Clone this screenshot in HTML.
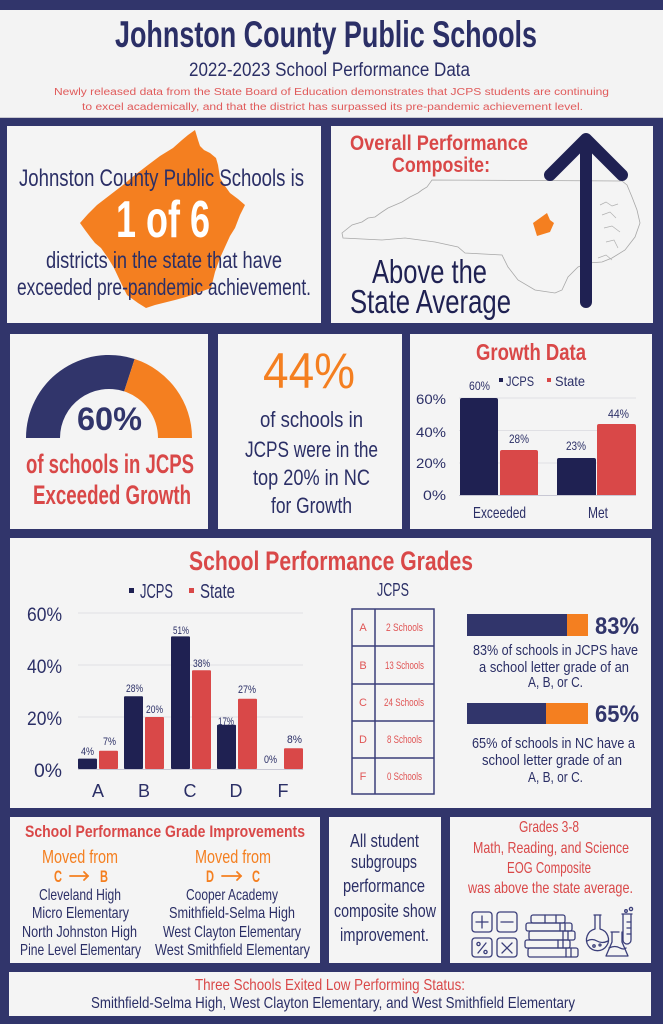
<!DOCTYPE html>
<html><head><meta charset="utf-8"><style>
html,body{margin:0;padding:0;background:#31356b;}
svg{display:block;}
text{font-family:"Liberation Sans Narrow","Liberation Sans",sans-serif;}
.n{fill:#2b2f66;}
.r{fill:#d94848;}
.o{fill:#f47f20;}
.b{font-weight:bold;}
</style></head><body>
<svg width="663" height="1024" viewBox="0 0 663 1024" xmlns="http://www.w3.org/2000/svg">
<rect x="0" y="0" width="663" height="1024" fill="#31356b"/>
<!-- header -->
<rect x="0" y="10" width="663" height="108" fill="#f3f3f3"/>
<rect x="0" y="117" width="663" height="1" fill="#c8c8d0"/>
<text x="115" y="47" font-size="37" class="n b" textLength="422" lengthAdjust="spacingAndGlyphs">Johnston County Public Schools</text>
<text x="189" y="76" font-size="19" class="n" textLength="281" lengthAdjust="spacingAndGlyphs">2022-2023 School Performance Data</text>
<text x="54" y="95" font-size="10" fill="#e05a5a" style="font-family:'Liberation Sans',sans-serif" textLength="555" lengthAdjust="spacingAndGlyphs">Newly released data from the State Board of Education demonstrates that JCPS students are continuing</text>
<text x="82" y="110" font-size="10" fill="#e05a5a" style="font-family:'Liberation Sans',sans-serif" textLength="501" lengthAdjust="spacingAndGlyphs">to excel academically, and that the district has surpassed its pre-pandemic achievement level.</text>

<!-- panels -->
<g fill="#f4f4f4">
<rect x="7" y="126" width="314" height="197"/>
<rect x="331" y="126" width="322" height="197"/>
<rect x="10" y="334" width="198" height="195"/>
<rect x="218" y="334" width="184" height="195"/>
<rect x="410" y="334" width="242" height="195"/>
<rect x="10" y="538" width="641" height="270"/>
<rect x="10" y="817" width="310" height="146"/>
<rect x="329" y="817" width="112" height="146"/>
<rect x="450" y="817" width="201" height="146"/>
<rect x="9" y="972" width="642" height="44"/>
</g>

<!-- Row 1 left -->
<polygon fill="#f47f20" points="195,130 198,140 200,146 204,150 210,153 216,158 218,165 220,178 225,186 230,193 238,199 245,205 240,215 235,228 230,236 225,247 220,258 215,272 211,288 200,292 186,297 175,300 167,302 155,305 146,308 138,303 127,295 122,285 114,268 108,258 101,248 95,243 91,238 85,230 80,223 88,214 97,205 110,195 123,185 135,175 148,165 160,156 173,148 182,140 188,135"/>
<text x="19" y="186" font-size="24" class="n" textLength="285" lengthAdjust="spacingAndGlyphs">Johnston County Public Schools is</text>
<text x="116" y="237" font-size="52" fill="#ffffff" class="b" textLength="94" lengthAdjust="spacingAndGlyphs">1 of 6</text>
<text x="46" y="268" font-size="23" class="n" textLength="236" lengthAdjust="spacingAndGlyphs">districts in the state that have</text>
<text x="17" y="295" font-size="23" class="n" textLength="294" lengthAdjust="spacingAndGlyphs">exceeded pre-pandemic achievement.</text>

<!-- Row 1 right -->
<text x="350" y="150" font-size="21" class="r b" textLength="178" lengthAdjust="spacingAndGlyphs">Overall Performance</text>
<text x="392" y="172" font-size="21" class="r b" textLength="98" lengthAdjust="spacingAndGlyphs">Composite:</text>
<path d="M432,180 L622,181 L627,185 L632,197 L637,210 L640,223 L635,237 L625,250 L612,258 L602,262 L588,263 L578,267 L568,277 L562,290 L555,293 L535,290 L518,280 L508,267 L502,255 L465,253 L458,247 L435,242 L405,238 L382,240 L343,238 L342,233 L352,225 L362,222 L368,218 L375,217 L382,212 L388,208 L395,205 L402,202 L410,197 L418,193 L422,190 L427,187 Z" fill="none" stroke="#a8a8a8" stroke-width="0.8"/>
<path d="M600,205 L606,202 L612,206 L618,204 M602,215 L610,212 L616,218 M604,228 L612,226 L620,232 M606,242 L614,240 L618,248 M598,258 L606,255 L612,260" fill="none" stroke="#b0b0b0" stroke-width="0.7"/>
<polygon fill="#f47f20" points="533,223 547,213 550,220 554,223 550,232 537,236"/>
<g stroke="#1f2152" stroke-width="12" stroke-linecap="round" stroke-linejoin="round" fill="none">
<line x1="586" y1="140" x2="586" y2="302"/>
<polyline points="550,175 586,139 622,175"/>
</g>
<text x="372" y="283" font-size="33" fill="#1f2152" textLength="115" lengthAdjust="spacingAndGlyphs">Above the</text>
<text x="350" y="313" font-size="33" fill="#1f2152" textLength="161" lengthAdjust="spacingAndGlyphs">State Average</text>

<!-- Row 2 gauge -->
<path d="M26,438 A83,83 0 0 1 134.65,359.06 L124.14,391.4 A49,49 0 0 0 60,438 Z" fill="#31356b"/>
<path d="M134.65,359.06 A83,83 0 0 1 192,438 L158,438 A49,49 0 0 0 124.14,391.4 Z" fill="#f47f20"/>
<text x="77" y="430" font-size="32" class="b" fill="#31356b" textLength="65" lengthAdjust="spacingAndGlyphs">60%</text>
<text x="26" y="473" font-size="27" class="r b" textLength="168" lengthAdjust="spacingAndGlyphs">of schools in JCPS</text>
<text x="33" y="504" font-size="27" class="r b" textLength="158" lengthAdjust="spacingAndGlyphs">Exceeded Growth</text>

<!-- Row 2 middle -->
<text x="263" y="388" font-size="50" class="o" textLength="92" lengthAdjust="spacingAndGlyphs">44%</text>
<text x="260" y="427" font-size="22" class="n" textLength="103" lengthAdjust="spacingAndGlyphs">of schools in</text>
<text x="245" y="457" font-size="22" class="n" textLength="133" lengthAdjust="spacingAndGlyphs">JCPS were in the</text>
<text x="253" y="485" font-size="22" class="n" textLength="117" lengthAdjust="spacingAndGlyphs">top 20% in NC</text>
<text x="271" y="513" font-size="22" class="n" textLength="81" lengthAdjust="spacingAndGlyphs">for Growth</text>

<!-- Row 2 growth chart -->
<text x="476" y="360" font-size="23" class="r b" textLength="110" lengthAdjust="spacingAndGlyphs">Growth Data</text>
<rect x="499" y="378" width="4" height="4" fill="#1f2152"/>
<text x="506" y="386" font-size="14" class="n" textLength="28" lengthAdjust="spacingAndGlyphs">JCPS</text>
<rect x="547" y="378" width="4" height="4" fill="#d94848"/>
<text x="555" y="386" font-size="14" class="n" textLength="30" lengthAdjust="spacingAndGlyphs">State</text>
<g stroke="#e0e0e4" stroke-width="1">
<line x1="459" y1="398" x2="636" y2="398"/>
<line x1="459" y1="430.5" x2="636" y2="430.5"/>
<line x1="459" y1="463" x2="636" y2="463"/>
</g>
<line x1="459" y1="495.5" x2="636" y2="495.5" stroke="#c8c8d4" stroke-width="1"/>
<g font-size="14" class="n">
<text x="416" y="404" textLength="30" lengthAdjust="spacingAndGlyphs" class="n">60%</text>
<text x="416" y="437" textLength="30" lengthAdjust="spacingAndGlyphs" class="n">40%</text>
<text x="416" y="468" textLength="30" lengthAdjust="spacingAndGlyphs" class="n">20%</text>
<text x="423" y="500" textLength="23" lengthAdjust="spacingAndGlyphs" class="n">0%</text>
</g>
<path d="M460,495 L460,400 Q460,398 462,398 L496,398 Q498,398 498,400 L498,495 Z" fill="#1f2152"/>
<path d="M500,495 L500,452 Q500,450 502,450 L536,450 Q538,450 538,452 L538,495 Z" fill="#d94848"/>
<path d="M557,495 L557,460 Q557,458 559,458 L594,458 Q596,458 596,460 L596,495 Z" fill="#1f2152"/>
<path d="M597,495 L597,426 Q597,424 599,424 L634,424 Q636,424 636,426 L636,495 Z" fill="#d94848"/>
<text x="469" y="390" font-size="12" class="n" textLength="21" lengthAdjust="spacingAndGlyphs">60%</text>
<text x="509" y="443" font-size="12" class="n" textLength="20" lengthAdjust="spacingAndGlyphs">28%</text>
<text x="566" y="450" font-size="12" class="n" textLength="20" lengthAdjust="spacingAndGlyphs">23%</text>
<text x="608" y="418" font-size="12" class="n" textLength="21" lengthAdjust="spacingAndGlyphs">44%</text>
<text x="473" y="518" font-size="16" class="n" textLength="53" lengthAdjust="spacingAndGlyphs">Exceeded</text>
<text x="588" y="518" font-size="16" class="n" textLength="20" lengthAdjust="spacingAndGlyphs">Met</text>

<!-- Row 3 -->
<text x="189" y="570" font-size="27" class="r b" textLength="284" lengthAdjust="spacingAndGlyphs">School Performance Grades</text>
<rect x="129" y="588" width="5" height="5" fill="#1f2152"/>
<text x="140" y="598" font-size="20" class="n" textLength="33" lengthAdjust="spacingAndGlyphs">JCPS</text>
<rect x="189" y="588" width="5" height="5" fill="#d94848"/>
<text x="200" y="598" font-size="20" class="n" textLength="35" lengthAdjust="spacingAndGlyphs">State</text>
<g stroke="#e0e0e4" stroke-width="1">
<line x1="78" y1="613" x2="303" y2="613"/>
<line x1="78" y1="665" x2="303" y2="665"/>
<line x1="78" y1="717" x2="303" y2="717"/>
</g>
<line x1="78" y1="769.5" x2="303" y2="769.5" stroke="#c8c8d4" stroke-width="1"/>
<text x="27" y="621" font-size="19" class="n" textLength="35" lengthAdjust="spacingAndGlyphs">60%</text>
<text x="27" y="673" font-size="19" class="n" textLength="35" lengthAdjust="spacingAndGlyphs">40%</text>
<text x="27" y="725" font-size="19" class="n" textLength="35" lengthAdjust="spacingAndGlyphs">20%</text>
<text x="34" y="777" font-size="19" class="n" textLength="28" lengthAdjust="spacingAndGlyphs">0%</text>
<g>
<rect x="78" y="758.6" width="19" height="10.4" rx="1" fill="#1f2152"/>
<rect x="99" y="750.8" width="19" height="18.2" rx="1" fill="#d94848"/>
<rect x="124" y="696.2" width="19" height="72.8" rx="1" fill="#1f2152"/>
<rect x="145" y="717" width="19" height="52" rx="1" fill="#d94848"/>
<rect x="171" y="636.4" width="19" height="132.6" rx="1" fill="#1f2152"/>
<rect x="192" y="670.2" width="19" height="98.8" rx="1" fill="#d94848"/>
<rect x="217" y="724.8" width="19" height="44.2" rx="1" fill="#1f2152"/>
<rect x="238" y="698.8" width="19" height="70.2" rx="1" fill="#d94848"/>
<rect x="284" y="748.2" width="19" height="20.8" rx="1" fill="#d94848"/>
</g>
<g font-size="11">
<text x="81" y="755" class="n" textLength="13" lengthAdjust="spacingAndGlyphs">4%</text>
<text x="103" y="745" class="n" textLength="13" lengthAdjust="spacingAndGlyphs">7%</text>
<text x="126" y="692" class="n" textLength="17" lengthAdjust="spacingAndGlyphs">28%</text>
<text x="146" y="713" class="n" textLength="17" lengthAdjust="spacingAndGlyphs">20%</text>
<text x="173" y="634" class="n" textLength="16" lengthAdjust="spacingAndGlyphs">51%</text>
<text x="193" y="667" class="n" textLength="17" lengthAdjust="spacingAndGlyphs">38%</text>
<text x="218" y="725" class="n" textLength="16" lengthAdjust="spacingAndGlyphs">17%</text>
<text x="238" y="693" class="n" textLength="18" lengthAdjust="spacingAndGlyphs">27%</text>
<text x="264" y="763" class="n" textLength="13" lengthAdjust="spacingAndGlyphs">0%</text>
<text x="287" y="743" class="n" textLength="15" lengthAdjust="spacingAndGlyphs">8%</text>
</g>
<g font-size="18" text-anchor="middle">
<text x="98" y="797" class="n">A</text>
<text x="144" y="797" class="n">B</text>
<text x="190" y="797" class="n">C</text>
<text x="236" y="797" class="n">D</text>
<text x="283" y="797" class="n">F</text>
</g>
<!-- table -->
<text x="377" y="596" font-size="18" class="n" textLength="32" lengthAdjust="spacingAndGlyphs">JCPS</text>
<g stroke="#3b3f7a" stroke-width="1.5" fill="none">
<rect x="352" y="609" width="82" height="185"/>
<line x1="375" y1="609" x2="375" y2="794"/>
<line x1="352" y1="646" x2="434" y2="646"/>
<line x1="352" y1="684" x2="434" y2="684"/>
<line x1="352" y1="721" x2="434" y2="721"/>
<line x1="352" y1="758" x2="434" y2="758"/>
</g>
<g font-size="11" fill="#e05555" text-anchor="middle">
<text x="363" y="631">A</text>
<text x="363" y="669">B</text>
<text x="363" y="706">C</text>
<text x="363" y="743">D</text>
<text x="363" y="780">F</text>
</g>
<g font-size="11" fill="#e05555">
<text x="386" y="631" textLength="37" lengthAdjust="spacingAndGlyphs">2 Schools</text>
<text x="385" y="669" textLength="39" lengthAdjust="spacingAndGlyphs">13 Schools</text>
<text x="384" y="706" textLength="40" lengthAdjust="spacingAndGlyphs">24 Schools</text>
<text x="387" y="743" textLength="35" lengthAdjust="spacingAndGlyphs">8 Schools</text>
<text x="387" y="780" textLength="35" lengthAdjust="spacingAndGlyphs">0 Schools</text>
</g>
<!-- progress bars -->
<rect x="467" y="614" width="100" height="22" fill="#31356b"/>
<rect x="567" y="614" width="21" height="22" fill="#f47f20"/>
<text x="595" y="634" font-size="24" class="b" fill="#31356b" textLength="44" lengthAdjust="spacingAndGlyphs">83%</text>
<text x="473" y="655" font-size="15" class="n" textLength="165" lengthAdjust="spacingAndGlyphs">83% of schools in JCPS have</text>
<text x="479" y="672" font-size="15" class="n" textLength="150" lengthAdjust="spacingAndGlyphs">a school letter grade of an</text>
<text x="528" y="687" font-size="15" class="n" textLength="55" lengthAdjust="spacingAndGlyphs">A, B, or C.</text>
<rect x="467" y="703" width="79" height="21" fill="#31356b"/>
<rect x="546" y="703" width="42" height="21" fill="#f47f20"/>
<text x="595" y="722" font-size="24" class="b" fill="#31356b" textLength="44" lengthAdjust="spacingAndGlyphs">65%</text>
<text x="472" y="748" font-size="15" class="n" textLength="163" lengthAdjust="spacingAndGlyphs">65% of schools in NC have a</text>
<text x="482" y="765" font-size="15" class="n" textLength="140" lengthAdjust="spacingAndGlyphs">school letter grade of an</text>
<text x="528" y="782" font-size="15" class="n" textLength="55" lengthAdjust="spacingAndGlyphs">A, B, or C.</text>

<!-- Row 4 left -->
<text x="25" y="837" font-size="17" class="r b" textLength="280" lengthAdjust="spacingAndGlyphs">School Performance Grade Improvements</text>
<text x="42" y="863" font-size="18" class="o" textLength="76" lengthAdjust="spacingAndGlyphs">Moved from</text>
<text x="195" y="863" font-size="18" class="o" textLength="76" lengthAdjust="spacingAndGlyphs">Moved from</text>
<text x="54" y="882" font-size="17" class="o b" textLength="8" lengthAdjust="spacingAndGlyphs">C</text>
<text x="100" y="882" font-size="17" class="o b" textLength="8" lengthAdjust="spacingAndGlyphs">B</text>
<text x="206" y="882" font-size="17" class="o b" textLength="8" lengthAdjust="spacingAndGlyphs">D</text>
<text x="252" y="882" font-size="17" class="o b" textLength="8" lengthAdjust="spacingAndGlyphs">C</text>
<g stroke="#f47f20" stroke-width="1.8" fill="none" stroke-linecap="round">
<line x1="70" y1="876" x2="88" y2="876"/><polyline points="84,872 88,876 84,880"/>
<line x1="222" y1="876" x2="241" y2="876"/><polyline points="237,872 241,876 237,880"/>
</g>
<g font-size="16">
<text x="39" y="900" class="n" textLength="82" lengthAdjust="spacingAndGlyphs">Cleveland High</text>
<text x="32" y="918" class="n" textLength="97" lengthAdjust="spacingAndGlyphs">Micro Elementary</text>
<text x="22" y="937" class="n" textLength="115" lengthAdjust="spacingAndGlyphs">North Johnston High</text>
<text x="20" y="955" class="n" textLength="121" lengthAdjust="spacingAndGlyphs">Pine Level Elementary</text>
<text x="186" y="900" class="n" textLength="92" lengthAdjust="spacingAndGlyphs">Cooper Academy</text>
<text x="169" y="918" class="n" textLength="126" lengthAdjust="spacingAndGlyphs">Smithfield-Selma High</text>
<text x="163" y="937" class="n" textLength="138" lengthAdjust="spacingAndGlyphs">West Clayton Elementary</text>
<text x="155" y="955" class="n" textLength="155" lengthAdjust="spacingAndGlyphs">West Smithfield Elementary</text>
</g>

<!-- Row 4 middle -->
<g font-size="18">
<text x="350" y="847" class="n" textLength="69" lengthAdjust="spacingAndGlyphs">All student</text>
<text x="351" y="868" class="n" textLength="66" lengthAdjust="spacingAndGlyphs">subgroups</text>
<text x="343" y="892" class="n" textLength="82" lengthAdjust="spacingAndGlyphs">performance</text>
<text x="334" y="917" class="n" textLength="102" lengthAdjust="spacingAndGlyphs">composite show</text>
<text x="340" y="941" class="n" textLength="89" lengthAdjust="spacingAndGlyphs">improvement.</text>
</g>

<!-- Row 4 right -->
<g font-size="16">
<text x="519" y="832" class="r" textLength="60" lengthAdjust="spacingAndGlyphs">Grades 3-8</text>
<text x="473" y="853" class="r" textLength="156" lengthAdjust="spacingAndGlyphs">Math, Reading, and Science</text>
<text x="507" y="873" class="r" textLength="84" lengthAdjust="spacingAndGlyphs">EOG Composite</text>
<text x="468" y="893" class="r" textLength="165" lengthAdjust="spacingAndGlyphs">was above the state average.</text>
</g>
<g stroke="#3b3f7a" stroke-width="1.3" fill="none" stroke-linecap="round" stroke-linejoin="round">
<rect x="472" y="912" width="20" height="20" rx="3"/>
<rect x="497" y="912" width="20" height="20" rx="3"/>
<rect x="472" y="938" width="20" height="19" rx="3"/>
<rect x="497" y="938" width="20" height="19" rx="3"/>
<line x1="476" y1="922" x2="488" y2="922"/><line x1="482" y1="916" x2="482" y2="928"/>
<line x1="501" y1="922" x2="513" y2="922"/>
<line x1="502" y1="943" x2="512" y2="953"/><line x1="512" y1="943" x2="502" y2="953"/>
<line x1="486" y1="943" x2="478" y2="953"/><circle cx="478.5" cy="944" r="1.6"/><circle cx="485.5" cy="952" r="1.6"/>
<!-- books -->
<rect x="531" y="915" width="34" height="8" rx="2"/>
<rect x="526" y="923" width="46" height="8" rx="2"/>
<rect x="529" y="931" width="46" height="9" rx="2"/>
<rect x="525" y="940" width="45" height="8" rx="2"/>
<rect x="528" y="948" width="50" height="9" rx="2"/>
<line x1="545" y1="915" x2="545" y2="923"/><line x1="556" y1="915" x2="556" y2="923"/>
<line x1="560" y1="923" x2="560" y2="931"/><line x1="565" y1="923" x2="565" y2="931"/>
<line x1="563" y1="931" x2="563" y2="940"/><line x1="568" y1="931" x2="568" y2="940"/>
<line x1="558" y1="940" x2="558" y2="948"/><line x1="563" y1="940" x2="563" y2="948"/>
<line x1="566" y1="948" x2="566" y2="957"/><line x1="571" y1="948" x2="571" y2="957"/>
<!-- flasks -->
<path d="M594,915 L601,915 M595,915 L595,929 A11,11 0 1 0 600,929 L600,915"/>
<path d="M587,941 Q592,938 597,941 Q602,944 608,941"/>
<circle cx="594" cy="946" r="1.2"/><circle cx="600" cy="945" r="1"/>
<path d="M611,932 L619,932 M612,932 L612,942 L606,956 L628,956 L622,942 L622,932"/>
<path d="M609,948 Q615,945 620,948 Q624,950 626,948"/>
<path d="M622,914 L632,914 M623,914 L623,940 A4,4 0 0 0 631,940 L631,914"/>
<line x1="627" y1="922" x2="631" y2="922"/><line x1="627" y1="928" x2="631" y2="928"/><line x1="627" y1="934" x2="631" y2="934"/>
<circle cx="626" cy="911" r="1.3"/><circle cx="631" cy="909" r="1.6"/>
</g>

<!-- Row 5 -->
<text x="195" y="990" font-size="16" class="r" textLength="270" lengthAdjust="spacingAndGlyphs">Three Schools Exited Low Performing Status:</text>
<text x="91" y="1008" font-size="16" class="n" textLength="484" lengthAdjust="spacingAndGlyphs">Smithfield-Selma High, West Clayton Elementary, and West Smithfield Elementary</text>
</svg>
</body></html>
